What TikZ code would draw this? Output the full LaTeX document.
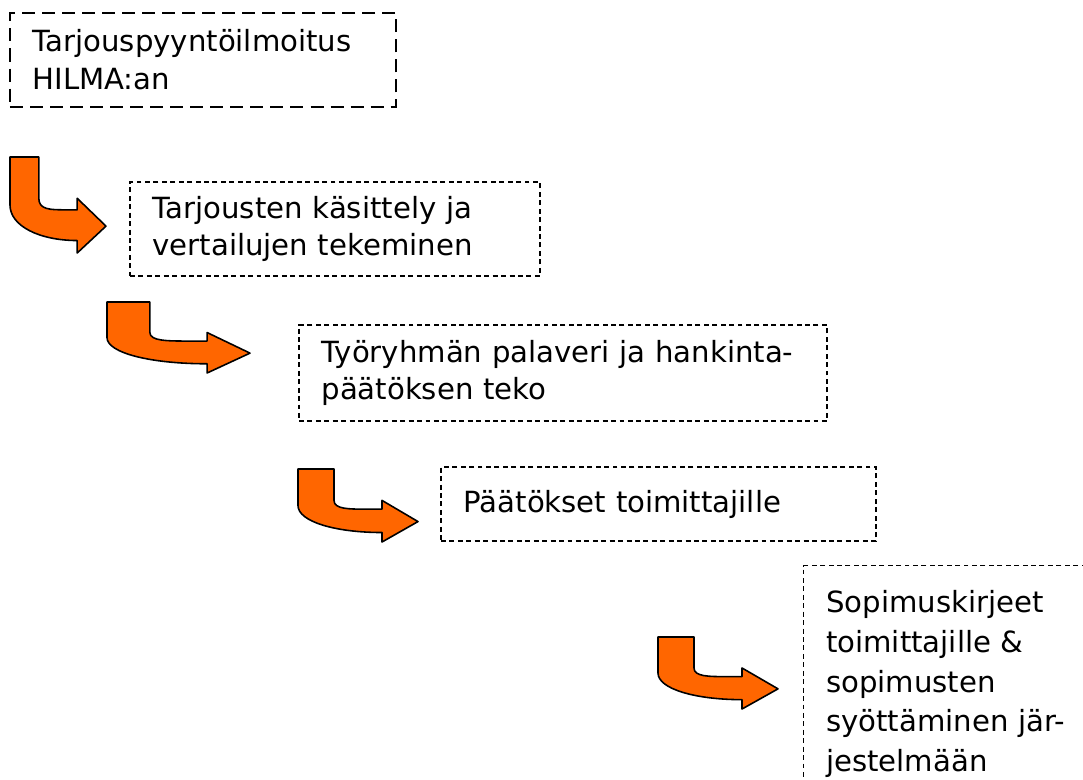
\documentclass[tikz,border=0pt]{standalone}
\usepackage{fontspec}
\setmainfont{DejaVu Sans}
\usepackage{tikz}
\definecolor{oranssi}{HTML}{FF6600}

\newcommand{\kaari}[4]{%
  \begin{scope}[shift={(#1,#2)}, xscale=#3, yscale=-#4]
    \draw[nuoli] (0,0) -- (0.30,0) -- (0.30,0.43)
      .. controls (0.30,0.55) and (0.42,0.55) .. (0.58,0.55)
      -- (0.70,0.55) -- (0.70,0.43) -- (1,0.72) -- (0.70,1) -- (0.70,0.87)
      .. controls (0.31,0.87) and (0,0.72) .. (0,0.50) -- cycle;
  \end{scope}}

\begin{document}
\begin{tikzpicture}[
    font=\fontsize{16.6}{21.5}\selectfont,
    laatikko/.style={rectangle, draw=black, line width=0.75pt,
      dash pattern=on 2.8pt off 2pt, inner xsep=0.45cm, align=left},
    isolaatikko/.style={laatikko, dash pattern=on 7.4pt off 4pt},
    nuoli/.style={draw=black, line width=0.9pt, fill=oranssi, line join=round}
  ]
    \useasboundingbox (0,0) rectangle (21.66,-15.58);
    \clip (0,0) rectangle (21.66,-15.58);

    \node[isolaatikko, text width=6.82cm, minimum height=1.88cm] (ilmoitus) at (4.06,-1.20)
      {Tarjouspyyntöilmoitus\\HILMA:an};
    \node[laatikko, text width=7.3cm, minimum height=1.88cm] (vertailu) at (6.70,-4.58)
      {Tarjousten käsittely ja\\vertailujen tekeminen};
    \node[laatikko, text width=9.66cm, minimum height=1.92cm] (palaveri) at (11.26,-7.46)
      {Työryhmän palaveri ja hankinta-\\päätöksen teko};
    \node[laatikko, text width=7.8cm, minimum height=1.48cm] (paatokset) at (13.17,-10.08)
      {Päätökset toimittajille};
    \node[laatikko, text width=5.8cm, inner ysep=0.5cm, anchor=north west,
      font=\fontsize{16.6}{22.6}\selectfont] (sopimukset) at (16.06,-11.30)
      {Sopimuskirjeet\\toimittajille \&\\sopimusten\\syöttäminen jär-\\jestelmään};

    % kaarinuolet
    \kaari{0.20}{-3.14}{1.92}{1.92}
    \kaari{2.14}{-6.04}{2.86}{1.42}
    \kaari{5.96}{-9.38}{2.40}{1.46}
    \kaari{13.16}{-12.74}{2.40}{1.44}
  \end{tikzpicture}
\end{document}
